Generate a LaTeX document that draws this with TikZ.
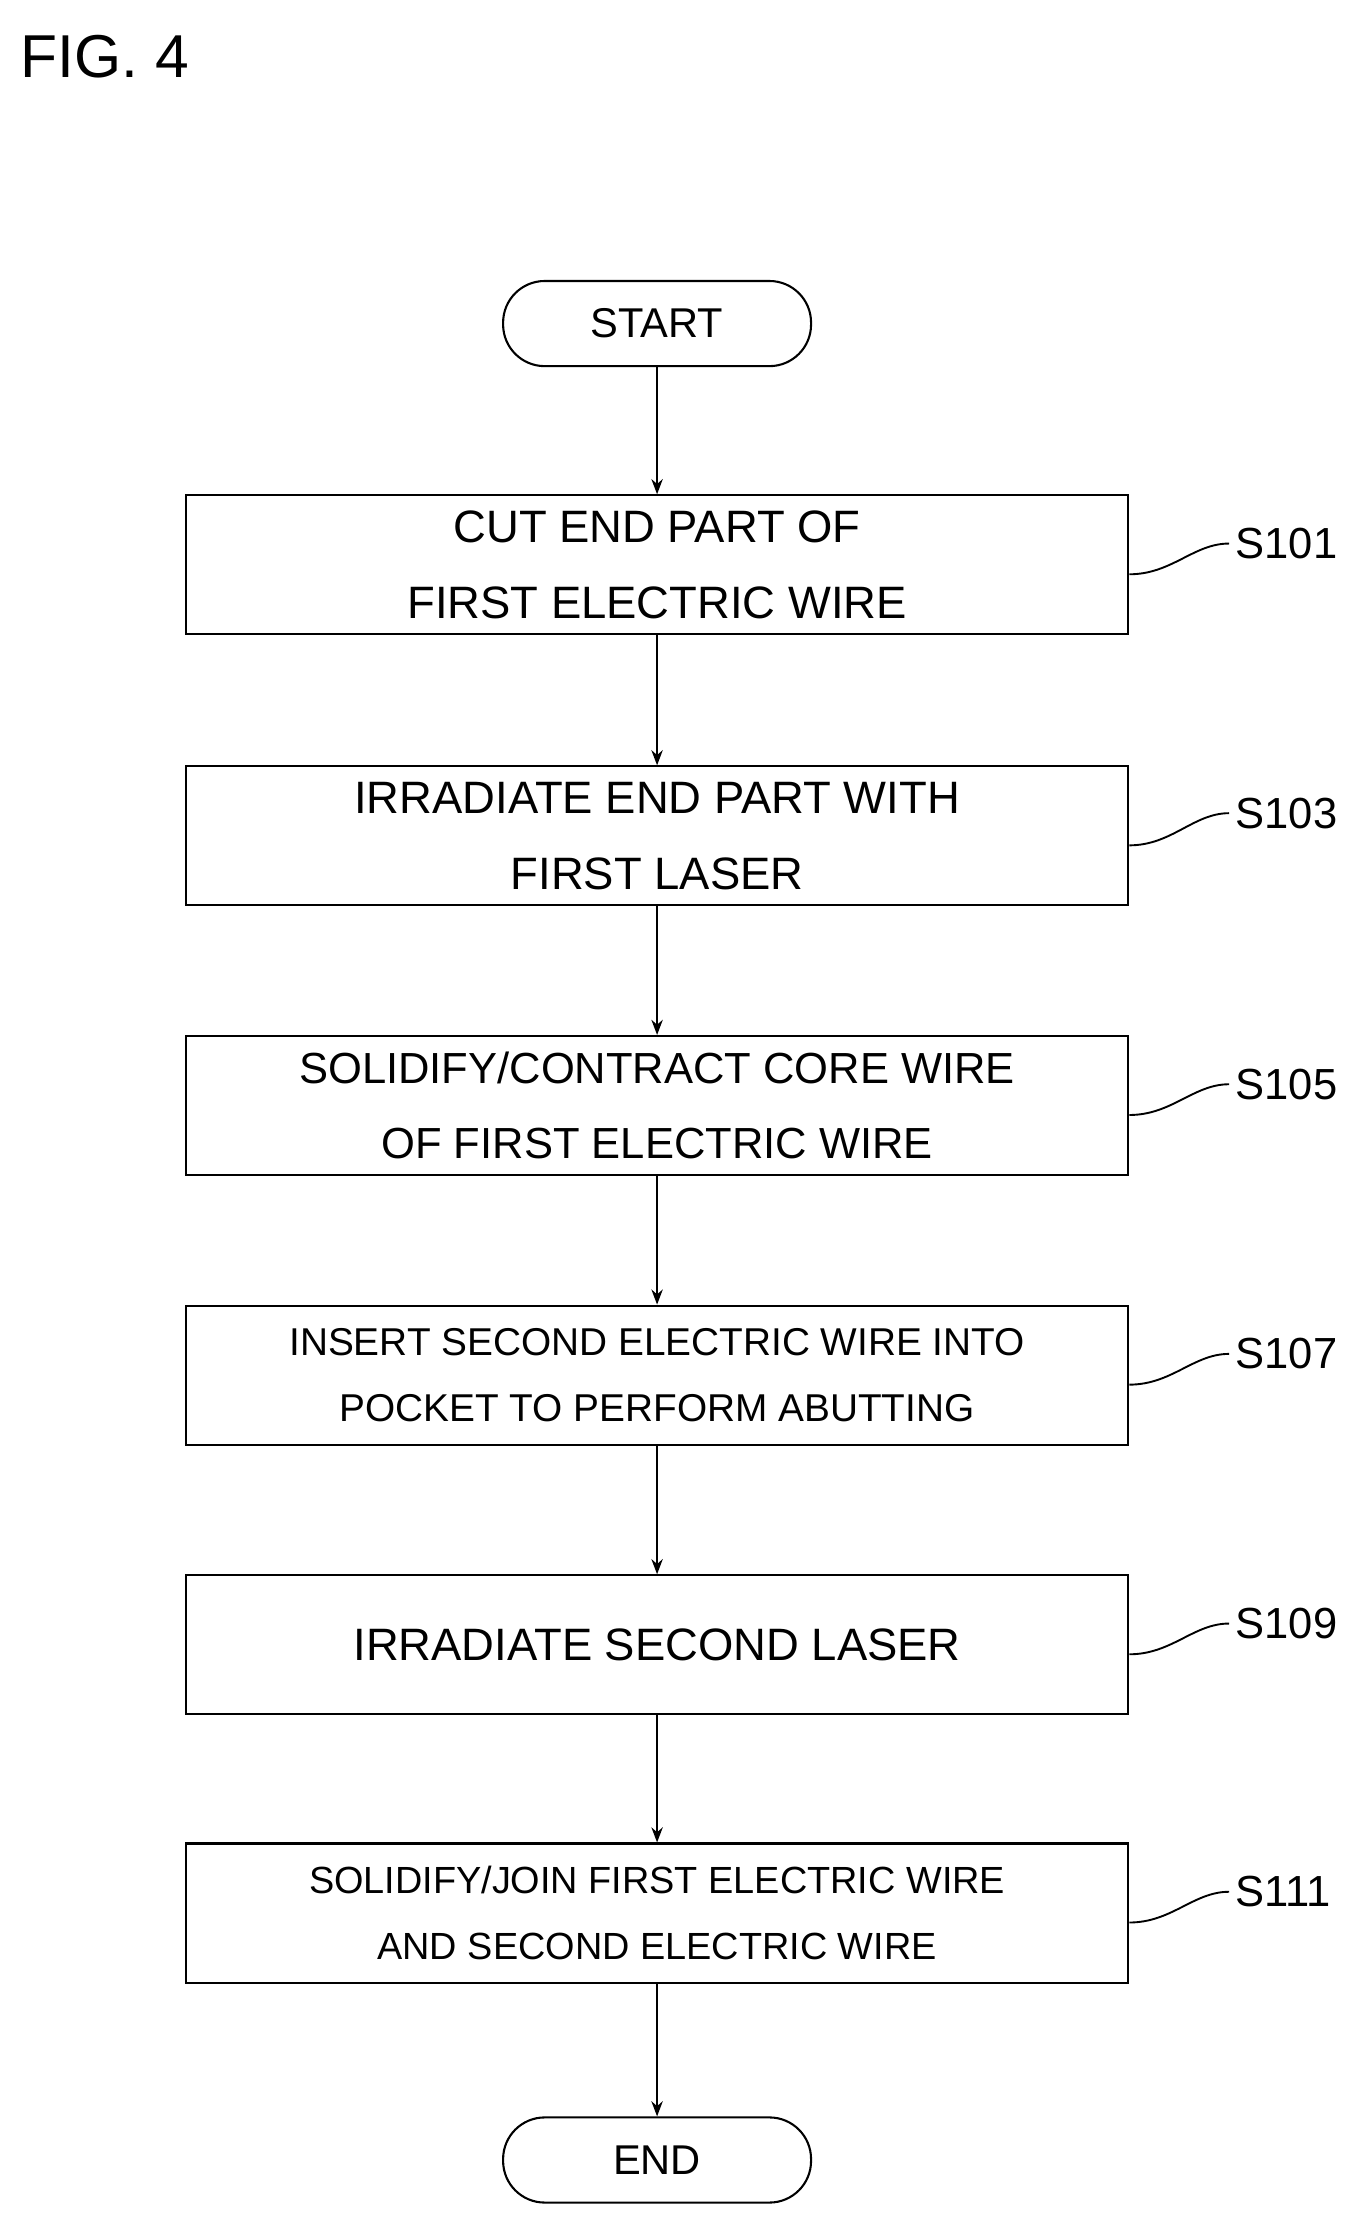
\documentclass[tikz,border=0pt]{standalone}
\usepackage{fontspec}
\setmainfont{Liberation Sans}
\usetikzlibrary{arrows.meta}
\begin{document}
\begin{tikzpicture}[x=0.75pt,y=-0.75pt,
  stepbox/.style={draw,line width=1.1pt,minimum width=664*0.75pt,minimum height=98*0.75pt,align=center,inner sep=0pt},
  term/.style={draw,line width=1.1pt,rounded corners=22pt,minimum width=217*0.75pt,minimum height=60*0.75pt,font=\fontsize{22}{26}\selectfont},
  arr/.style={line width=1.1pt,-{Stealth[length=8pt,width=6pt]}},
  lead/.style={line width=1pt},
  lab/.style={font=\fontsize{23}{26}\selectfont}]
\useasboundingbox (0,0) rectangle (960,1565);
\node[anchor=west,font=\fontsize{32}{36}\selectfont] (fig) at (10,40) {FIG. 4};
\node[term] (start) at (463,228) {START};
\node[stepbox,font=\fontsize{24}{40}\selectfont] (s1) at (463,398) {CUT END PART OF\\FIRST ELECTRIC WIRE};
\node[stepbox,font=\fontsize{24}{40}\selectfont] (s2) at (463,589) {IRRADIATE END PART WITH\\FIRST LASER};
\node[stepbox,font=\fontsize{23}{40}\selectfont] (s3) at (463,779) {SOLIDIFY/CONTRACT CORE WIRE\\OF FIRST ELECTRIC WIRE};
\node[stepbox,font=\fontsize{20.5}{35}\selectfont] (s4) at (463,969) {INSERT SECOND ELECTRIC WIRE INTO\\POCKET TO PERFORM ABUTTING};
\node[stepbox,font=\fontsize{24}{40}\selectfont] (s5) at (463,1159) {IRRADIATE SECOND LASER};
\node[stepbox,font=\fontsize{20}{35}\selectfont] (s6) at (463,1348) {SOLIDIFY/JOIN FIRST ELECTRIC WIRE\\AND SECOND ELECTRIC WIRE};
\node[term] (end) at (463,1522) {END};
\draw[arr] (start) -- (s1);
\draw[arr] (s1) -- (s2);
\draw[arr] (s2) -- (s3);
\draw[arr] (s3) -- (s4);
\draw[arr] (s4) -- (s5);
\draw[arr] (s5) -- (s6);
\draw[arr] (s6) -- (end);
\foreach \n/\t/\y in {s1/S101/383,s2/S103/573,s3/S105/764,s4/S107/954,s5/S109/1144,s6/S111/1333}{
  \node[lab,anchor=west] (l\n) at (866,\y) {\t};
  \draw[lead] ([yshift=-5pt]\n.east) .. controls +(30,0) and +(-25,0) .. (l\n.west);
}
\end{tikzpicture}
\end{document}
